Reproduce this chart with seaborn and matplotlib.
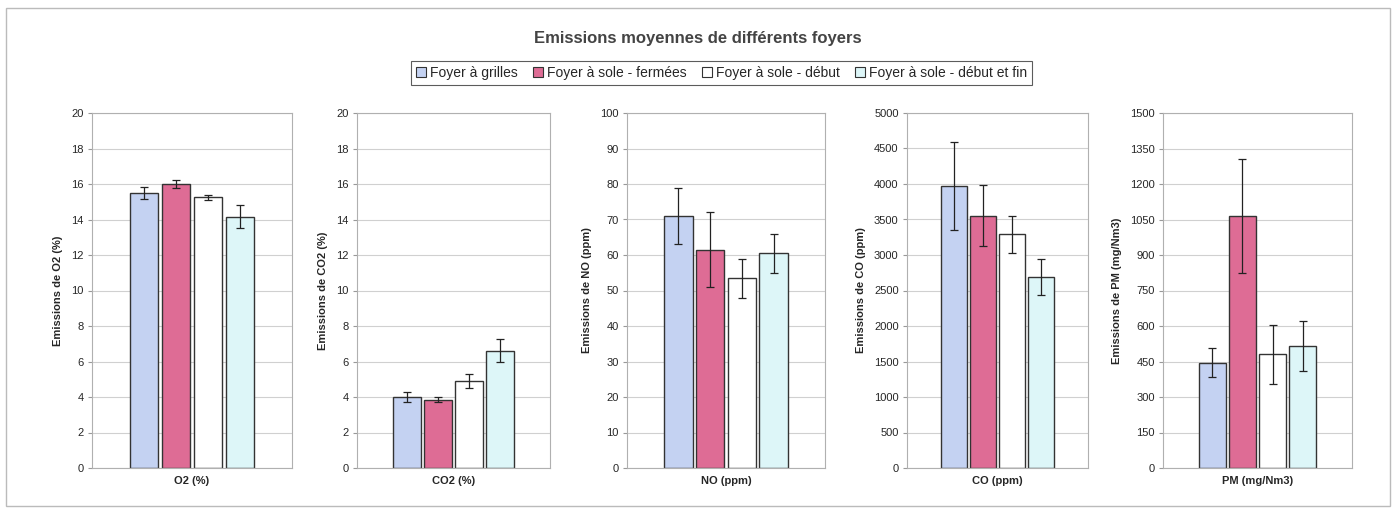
import numpy as np
import pandas as pd
import matplotlib
matplotlib.use("Agg")
import matplotlib.pyplot as plt
import seaborn as sns
from matplotlib.patches import Patch, Rectangle

foyers = ["Foyer à grilles", "Foyer à sole - fermées", "Foyer à sole - début", "Foyer à sole - début et fin"]
colors = ["#C4D2F2", "#DE6C95", "#FFFFFF", "#DDF6F8"]

params = ["O2 (%)", "CO2 (%)", "NO (ppm)", "CO (ppm)", "PM (mg/Nm3)"]
ylabels = ["Emissions de O2 (%)", "Emissions de CO2 (%)", "Emissions de NO (ppm)",
           "Emissions de CO (ppm)", "Emissions de PM (mg/Nm3)"]

o2_mean = [15.5, 16.0, 15.25, 14.15]
o2_err = [0.35, 0.2, 0.15, 0.65]
co2_mean = [4.0, 3.85, 4.9, 6.6]
co2_err = [0.3, 0.15, 0.4, 0.65]
no_mean = [71, 61.5, 53.5, 60.5]
no_err = [8, 10.5, 5.5, 5.5]
co_mean = [3970, 3550, 3290, 2690]
co_err = [620, 430, 260, 250]
pm_mean = [445, 1065, 480, 515]
pm_err = [60, 240, 125, 105]

means = [o2_mean, co2_mean, no_mean, co_mean, pm_mean]
errs = [o2_err, co2_err, no_err, co_err, pm_err]
ymax = [20, 20, 100, 5000, 1500]
ystep = [2, 2, 10, 500, 150]

sns.set_style("white")
plt.rcParams['font.family'] = ['Liberation Sans', 'DejaVu Sans']

fig = plt.figure(figsize=(13.96, 5.11), dpi=100)
fig.patches.append(Rectangle((0.004, 0.01), 0.992, 0.975, transform=fig.transFigure,
                             fill=False, edgecolor="#bbbbbb", lw=1))

# axes positions in pixels (left, right)
lefts = [92, 357, 627, 907, 1163]
rights = [292, 550, 825, 1088, 1352]
W, H = 1396, 511
top, bottom = 113, 468

for i in range(5):
    ax = fig.add_axes([lefts[i] / W, 1 - bottom / H, (rights[i] - lefts[i]) / W, (bottom - top) / H])
    df = pd.DataFrame({"param": params[i], "foyer": foyers, "value": means[i]})
    sns.barplot(data=df, x="param", y="value", hue="foyer", hue_order=foyers,
                palette=colors, saturation=1, edgecolor="#333333", linewidth=1.0,
                width=0.64, gap=0.1, legend=False, ax=ax)
    xs = [p.get_x() + p.get_width() / 2 for p in ax.patches[:4]]
    ax.errorbar(xs, means[i], yerr=errs[i], fmt="none", ecolor="#222222",
                elinewidth=0.9, capsize=3, capthick=0.9)
    ax.set_xlim(-0.5, 0.5)
    ax.set_ylim(0, ymax[i])
    ax.set_yticks(np.arange(0, ymax[i] + ystep[i] / 2, ystep[i]))
    ax.yaxis.grid(True, color="#d0d0d0", lw=0.8)
    ax.set_axisbelow(True)
    for s in ax.spines.values():
        s.set_color("#b0b0b0")
        s.set_linewidth(0.8)
    ax.tick_params(axis="y", labelsize=8, length=3, color="#999999", left=True, pad=3)
    ax.tick_params(axis="x", labelsize=8, length=0, pad=6)
    ax.set_xlabel("")
    ax.set_ylabel(ylabels[i], fontsize=8, fontweight="bold", labelpad=6)
    for t in ax.get_xticklabels():
        t.set_fontweight("bold")

fig.text(0.5, 1 - 38 / H, "Emissions moyennes de différents foyers", ha="center", va="center",
         fontsize=12, fontweight="bold", color="#444444")

handles = [Patch(facecolor=c, edgecolor="#333333", lw=0.8) for c in colors]
leg = fig.legend(handles, foyers, loc="center", bbox_to_anchor=(0.517, 1 - 73 / H), ncol=4,
                 fontsize=10, frameon=True, fancybox=False, handlelength=0.7, handleheight=0.7,
                 handletextpad=0.3, columnspacing=1.1, borderpad=0.35)
leg.get_frame().set_edgecolor("#333333")
leg.get_frame().set_linewidth(0.8)

fig.savefig("out.png", dpi=100)
